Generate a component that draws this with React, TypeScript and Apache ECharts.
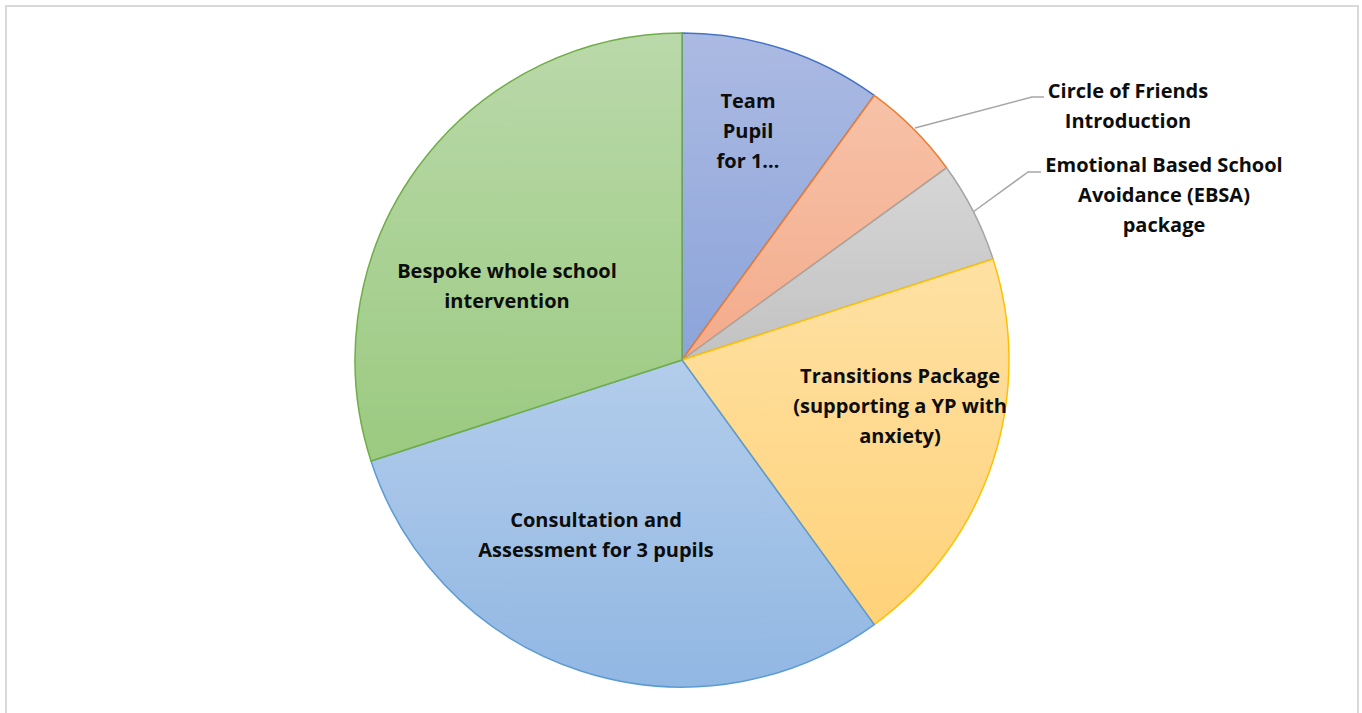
import React, { useEffect, useRef } from "react";
import * as echarts from "echarts";

const categories = [
  "Team Pupil for 1 pupil",
  "Circle of Friends Introduction",
  "Emotional Based School Avoidance (EBSA) package",
  "Transitions Package (supporting a YP with anxiety)",
  "Consultation and Assessment for 3 pupils",
  "Bespoke whole school intervention",
];
const values = [10, 5, 5, 20, 30, 30];
const labelTexts = [
  "Team\nPupil\nfor 1…",
  "Circle of Friends\nIntroduction",
  "Emotional Based School\nAvoidance (EBSA)\npackage",
  "Transitions Package\n(supporting a YP with\nanxiety)",
  "Consultation and\nAssessment for 3 pupils",
  "Bespoke whole school\nintervention",
];
const topColors = ["#abbae2", "#f7c2a8", "#d6d6d6", "#fee1a3", "#b3cdeb", "#bad9aa"];
const bottomColors = ["#8ca4da", "#f3ab8b", "#c2c2c2", "#ffd27a", "#91b7e3", "#9bca80"];
const borderColors = ["#4472c4", "#ed7d31", "#a5a5a5", "#ffc000", "#5b9bd5", "#70ad47"];
const outsideLabel = [false, true, true, false, false, false];

// label anchor positions (label placement only)
const labelPos: [number, number][] = [
  [748, 130],
  [1128, 105],
  [1164, 194],
  [900, 405],
  [596, 534],
  [507, 285],
];
const leaderLines: ([number, number][] | null)[] = [
  null,
  [[915, 128], [1032, 97], [1044, 97]],
  [[973, 212], [1028, 172], [1041, 172]],
  null,
  null,
  null,
];

export default function App() {
  const ref = useRef<HTMLDivElement>(null);
  useEffect(() => {
    if (!ref.current) return;
    const chart = echarts.init(ref.current, undefined, { renderer: "svg" });
    const data = categories.map((name, i) => ({
      name,
      value: values[i],
      itemStyle: {
        color: new echarts.graphic.LinearGradient(0, 0, 0, 1, [
          { offset: 0, color: topColors[i] },
          { offset: 1, color: bottomColors[i] },
        ]),
        borderColor: borderColors[i],
        borderWidth: 1.5,
      },
      label: {
        show: true,
        position: outsideLabel[i] ? "outside" : "inside",
        formatter: () => labelTexts[i],
      },
      labelLine: {
        show: outsideLabel[i],
        lineStyle: { color: "#a6a6a6", width: 1.5 },
      },
    }));
    chart.setOption({
      animation: false,
      backgroundColor: "transparent",
      series: [
        {
          type: "pie",
          center: [682, 360],
          radius: [0, 327],
          startAngle: 90,
          clockwise: true,
          avoidLabelOverlap: false,
          data,
          label: {
            color: "#0d0d0d",
            fontFamily: "'Open Sans', sans-serif",
            fontWeight: "bold",
            fontSize: 20,
            lineHeight: 30,
            align: "center",
          },
          labelLayout: (params: any) => {
            const i = params.dataIndex;
            const res: any = {
              x: labelPos[i][0],
              y: labelPos[i][1],
              align: "center",
              verticalAlign: "middle",
            };
            if (leaderLines[i]) res.labelLinePoints = leaderLines[i];
            return res;
          },
        },
      ],
    });
    return () => chart.dispose();
  }, []);
  return (
    <div
      style={{
        position: "absolute",
        left: 0,
        top: 0,
        width: 1362,
        height: 713,
        background: "#fff",
        overflow: "hidden",
      }}
    >
      <div
        style={{
          position: "absolute",
          left: 5,
          top: 5,
          width: 1354,
          height: 720,
          border: "2px solid #d9d9d9",
          boxSizing: "border-box",
        }}
      />
      <div ref={ref} style={{ position: "absolute", left: 0, top: 0, width: 1362, height: 713 }} />
    </div>
  );
}
